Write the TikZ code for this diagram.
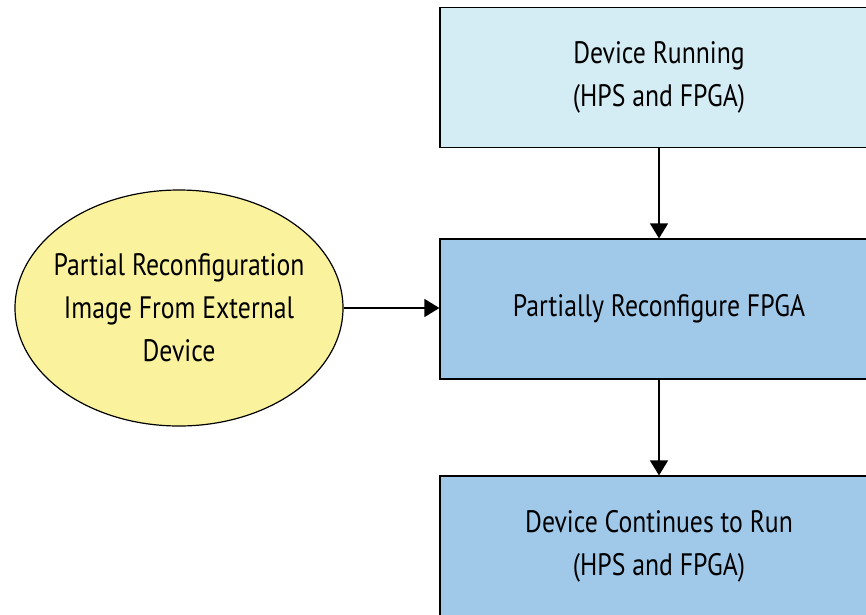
\documentclass[tikz,border=0pt]{standalone}
\usepackage{fontspec}
\setmainfont[FakeStretch=0.83]{PT Sans}
\usetikzlibrary{shapes.geometric,arrows.meta}

\begin{document}
\begin{tikzpicture}[x=1pt,y=-1pt,
  every node/.style={font=\fontsize{31}{43}\selectfont, align=center},
  stepbox/.style={draw, line width=1.2pt, minimum width=438pt, minimum height=140pt, inner sep=0pt},
  conn/.style={line width=1.2pt, -{Triangle[length=15pt,width=18pt]}}]

\definecolor{runblue}{HTML}{D4ECF3}
\definecolor{stepblue}{HTML}{9FC8E9}
\definecolor{imgyellow}{HTML}{FAF29C}

\useasboundingbox (0,0) rectangle (866,614);
\clip (0,0) rectangle (866,614);

\node[stepbox, fill=runblue] (run) at (659,77.5){Device Running\\(HPS and FPGA)};
\node[stepbox, fill=stepblue] (reconf) at (659,309){Partially Reconfigure FPGA};
\node[stepbox, fill=stepblue] (cont) at (659,546){Device Continues to Run\\(HPS and FPGA)};


\node[ellipse, draw, line width=1.2pt, fill=imgyellow, minimum width=328pt, minimum height=236pt, inner sep=-14pt] (img) at (179,308){Partial Reconfiguration\\Image From External\\Device};

\draw[conn](run)--(reconf);
\draw[conn](reconf)--(cont);
\draw[conn](img)--(img -| reconf.west);

\end{tikzpicture}
\end{document}
